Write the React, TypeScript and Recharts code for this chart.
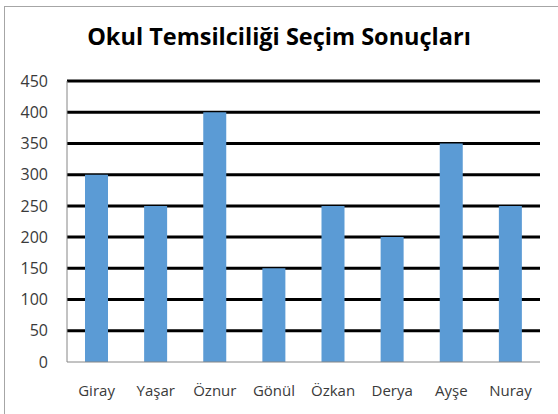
import { BarChart, Bar, XAxis, YAxis, CartesianGrid } from 'recharts'

const NAMES = ['Giray', 'Yaşar', 'Öznur', 'Gönül', 'Özkan', 'Derya', 'Ayşe', 'Nuray']
const VOTES = [300, 250, 400, 150, 250, 200, 350, 250]
const Y_TICKS = [0, 50, 100, 150, 200, 250, 300, 350, 400, 450]
const GRID_VALUES = [50, 100, 150, 200, 250, 300, 350, 400, 450]

const data = NAMES.map((name, i) => ({ name, votes: VOTES[i] }))

const FONT = '"Open Sans", Lato, sans-serif'
const X_TICK = { fontSize: 15, fill: '#3a3a3a', fontFamily: FONT }
const Y_TICK = { fontSize: 16, fill: '#3a3a3a', fontFamily: FONT }

export default function App() {
  return (
    <div style={{ position: 'absolute', left: 0, top: 0, width: 558, height: 414, overflow: 'hidden', background: '#fff' }}>
      <div style={{
        position: 'absolute', left: 4, top: 6, width: 560, height: 420,
        border: '1px solid #A6A6A6', boxSizing: 'border-box',
      }} />
      <div style={{
        position: 'absolute', left: 0, top: 20, width: 558, textAlign: 'center',
        fontFamily: FONT, fontWeight: 700, fontSize: 23.5, color: '#000', lineHeight: 'normal',
      }}>
        Okul Temsilciliği Seçim Sonuçları
      </div>
      <div style={{ position: 'absolute', left: 0, top: 0 }}>
        <BarChart width={558} height={414} data={data} margin={{ top: 81, right: 18, left: 0, bottom: 0 }}>
          <CartesianGrid vertical={false} horizontalValues={GRID_VALUES} stroke="#000" strokeWidth={3} />
          <XAxis
            dataKey="name"
            height={52}
            tick={X_TICK}
            tickLine={false}
            tickSize={0}
            tickMargin={23}
            axisLine={{ stroke: '#868686' }}
          />
          <YAxis
            width={67}
            domain={[0, 450]}
            ticks={Y_TICKS}
            tick={Y_TICK}
            tickLine={false}
            tickSize={0}
            tickMargin={19}
            axisLine={{ stroke: '#868686' }}
          />
          <Bar dataKey="votes" fill="#5B9BD5" barSize={23} isAnimationActive={false} />
        </BarChart>
      </div>
    </div>
  )
}
